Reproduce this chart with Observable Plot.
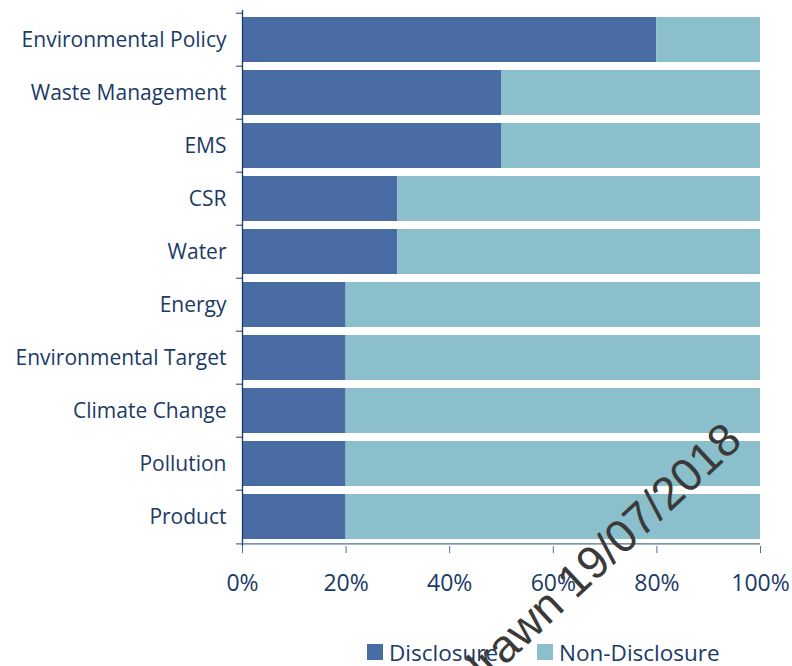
<!DOCTYPE html>
<html><head><meta charset="utf-8">
<script src="https://cdn.jsdelivr.net/npm/d3@7"></script>
<script src="https://cdn.jsdelivr.net/npm/@observablehq/plot@0.6"></script>
<style>
body{margin:0;background:#fff;font-family:"Open Sans",sans-serif;}
#wrap{position:relative;width:792px;height:666px;overflow:hidden;background:#fff;}
#legend{display:flex;align-items:center;padding-left:367px;margin-top:20px;font-size:22.5px;color:#1b3a66;height:40px;}
#legend .item{display:flex;align-items:center;margin-right:39px;}
#legend .sw{width:16px;height:16px;margin-right:6px;}
#wm{position:absolute;left:0;top:0;pointer-events:none;}
</style></head><body><div id="wrap"><div id="chart"></div><div id="legend"></div></div>
<script>
const categories = ["Environmental Policy","Waste Management","EMS","CSR","Water","Energy","Environmental Target","Climate Change","Pollution","Product"];
const disclosure = [80,50,50,30,30,20,20,20,20,20];
const nonDisclosure = [20,50,50,70,70,80,80,80,80,80];
const series = ["Disclosure","Non-Disclosure"];
const colors = ["#4a6ca5","#8bbfcb"];
const xTicks = [0,20,40,60,80,100];
const watermark = "Withdrawn 19/07/2018";

const data = categories.flatMap((c,i)=>[
  {category:c, series:series[0], value:disclosure[i]},
  {category:c, series:series[1], value:nonDisclosure[i]}
]);

const W=792,H=612,mt=10,mb=66,ml=242,mr=32;
const step=(H-mt-mb)/categories.length;
const ink="#1b3a66";
const chart = Plot.plot({
  width:W,height:H,marginTop:mt,marginBottom:mb,marginLeft:ml,marginRight:mr,
  style:{fontFamily:"Open Sans", color:ink, background:"#fff", overflow:"visible"},
  x:{domain:[0,100], label:null},
  y:{domain:categories, paddingInner:0.16, paddingOuter:0.08, label:null},
  color:{domain:series, range:colors},
  marks:[
    Plot.barX(data,{x:"value", y:"category", fill:"series"}),
    Plot.axisY({tickSize:0, tickPadding:16, fontSize:21, label:null}),
    Plot.axisX({ticks:xTicks, tickFormat:d=>d+"%", tickSize:7, tickPadding:21, fontSize:23, label:null, stroke:"#4f6f9c"}),
    Plot.ruleX([0], {stroke:ink, strokeWidth:1.3}),
    Plot.ruleY(categories,{y:d=>d, x1:0, x2:0, insetLeft:-6, dy:-step/2, stroke:ink}),
    Plot.ruleY([categories[categories.length-1]],{y:d=>d, x1:0, x2:100, insetLeft:-6, dy:step/2, stroke:"#4f6f9c", strokeWidth:1.3})
  ]
});
document.getElementById("chart").appendChild(chart);

const legend = document.getElementById("legend");
series.forEach((s,i)=>{
  const it=document.createElement("div"); it.className="item";
  const sw=document.createElement("div"); sw.className="sw"; sw.style.background=colors[i];
  const tx=document.createElement("span"); tx.textContent=s;
  it.appendChild(sw); it.appendChild(tx); legend.appendChild(it);
});

const ns="http://www.w3.org/2000/svg";
const wm=document.createElementNS(ns,"svg");
wm.setAttribute("id","wm"); wm.setAttribute("width",792); wm.setAttribute("height",666);
const t=document.createElementNS(ns,"text");
t.setAttribute("transform","translate(744,443) rotate(-43)");
t.setAttribute("text-anchor","end");
t.setAttribute("font-family","Liberation Sans, Arial, sans-serif");
t.setAttribute("font-size","46");
t.setAttribute("fill","#3a3a3a");
t.textContent=watermark;
wm.appendChild(t);
document.getElementById("wrap").appendChild(wm);
</script></body></html>
